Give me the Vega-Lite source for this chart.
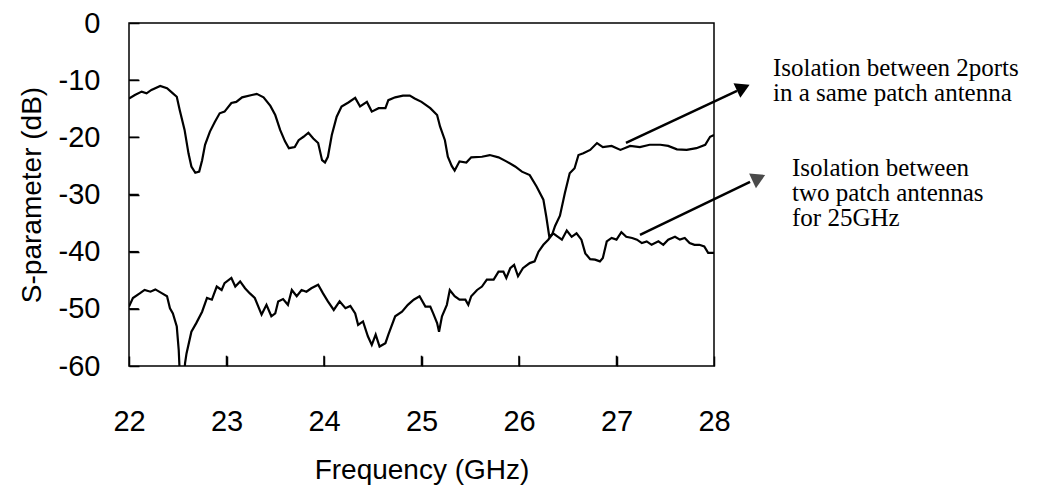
{
  "$schema": "https://vega.github.io/schema/vega-lite/v6.json",
  "width": 585,
  "height": 343,
  "autosize": {"type": "none"},
  "padding": {"left": 129, "top": 23, "right": 327, "bottom": 129},
  "background": "white",
  "config": {
    "view": {"stroke": "black", "strokeWidth": 1.5},
    "font": "Liberation Sans"
  },
  "datasets": {
    "curves": [
      {"series": "A", "x": 22.00, "y": -13.2}, {"series": "A", "x": 22.06, "y": -12.6}, {"series": "A", "x": 22.13, "y": -12.0},
      {"series": "A", "x": 22.18, "y": -12.3}, {"series": "A", "x": 22.23, "y": -11.7}, {"series": "A", "x": 22.32, "y": -11.0},
      {"series": "A", "x": 22.39, "y": -11.4}, {"series": "A", "x": 22.45, "y": -12.3}, {"series": "A", "x": 22.49, "y": -12.9},
      {"series": "A", "x": 22.52, "y": -15.2}, {"series": "A", "x": 22.57, "y": -18.7}, {"series": "A", "x": 22.61, "y": -22.8},
      {"series": "A", "x": 22.64, "y": -25.1}, {"series": "A", "x": 22.68, "y": -26.2}, {"series": "A", "x": 22.72, "y": -26.0},
      {"series": "A", "x": 22.75, "y": -24.0}, {"series": "A", "x": 22.78, "y": -21.3}, {"series": "A", "x": 22.83, "y": -19.0},
      {"series": "A", "x": 22.88, "y": -17.3}, {"series": "A", "x": 22.93, "y": -15.8}, {"series": "A", "x": 22.98, "y": -15.5},
      {"series": "A", "x": 23.05, "y": -14.0}, {"series": "A", "x": 23.10, "y": -13.8}, {"series": "A", "x": 23.16, "y": -13.0},
      {"series": "A", "x": 23.26, "y": -12.6}, {"series": "A", "x": 23.31, "y": -12.4}, {"series": "A", "x": 23.38, "y": -13.0},
      {"series": "A", "x": 23.45, "y": -14.5}, {"series": "A", "x": 23.50, "y": -16.1}, {"series": "A", "x": 23.55, "y": -18.7},
      {"series": "A", "x": 23.60, "y": -20.7}, {"series": "A", "x": 23.64, "y": -21.9}, {"series": "A", "x": 23.70, "y": -21.7},
      {"series": "A", "x": 23.74, "y": -20.5}, {"series": "A", "x": 23.79, "y": -19.9}, {"series": "A", "x": 23.84, "y": -19.2},
      {"series": "A", "x": 23.89, "y": -20.2}, {"series": "A", "x": 23.94, "y": -21.0}, {"series": "A", "x": 23.98, "y": -24.0},
      {"series": "A", "x": 24.01, "y": -24.4}, {"series": "A", "x": 24.04, "y": -23.4}, {"series": "A", "x": 24.08, "y": -19.6},
      {"series": "A", "x": 24.13, "y": -16.4}, {"series": "A", "x": 24.18, "y": -14.6}, {"series": "A", "x": 24.25, "y": -13.9},
      {"series": "A", "x": 24.32, "y": -13.1}, {"series": "A", "x": 24.37, "y": -14.6}, {"series": "A", "x": 24.44, "y": -13.8},
      {"series": "A", "x": 24.49, "y": -15.5}, {"series": "A", "x": 24.56, "y": -14.9}, {"series": "A", "x": 24.63, "y": -14.9},
      {"series": "A", "x": 24.66, "y": -13.5}, {"series": "A", "x": 24.73, "y": -13.0}, {"series": "A", "x": 24.81, "y": -12.7},
      {"series": "A", "x": 24.88, "y": -12.7}, {"series": "A", "x": 24.93, "y": -13.2}, {"series": "A", "x": 25.00, "y": -13.8},
      {"series": "A", "x": 25.09, "y": -14.9}, {"series": "A", "x": 25.16, "y": -16.1}, {"series": "A", "x": 25.19, "y": -18.1},
      {"series": "A", "x": 25.24, "y": -20.5}, {"series": "A", "x": 25.27, "y": -23.4}, {"series": "A", "x": 25.31, "y": -25.0},
      {"series": "A", "x": 25.34, "y": -25.8}, {"series": "A", "x": 25.39, "y": -24.2}, {"series": "A", "x": 25.46, "y": -24.4},
      {"series": "A", "x": 25.51, "y": -23.5}, {"series": "A", "x": 25.62, "y": -23.4}, {"series": "A", "x": 25.70, "y": -23.1},
      {"series": "A", "x": 25.79, "y": -23.5}, {"series": "A", "x": 25.87, "y": -24.2}, {"series": "A", "x": 25.96, "y": -25.1},
      {"series": "A", "x": 26.03, "y": -26.0}, {"series": "A", "x": 26.11, "y": -26.6}, {"series": "A", "x": 26.18, "y": -28.6},
      {"series": "A", "x": 26.25, "y": -30.9}, {"series": "A", "x": 26.28, "y": -33.9}, {"series": "A", "x": 26.31, "y": -37.3},
      {"series": "A", "x": 26.34, "y": -37.0}, {"series": "A", "x": 26.37, "y": -35.5}, {"series": "A", "x": 26.42, "y": -33.7},
      {"series": "A", "x": 26.47, "y": -29.8}, {"series": "A", "x": 26.52, "y": -26.3}, {"series": "A", "x": 26.57, "y": -25.4},
      {"series": "A", "x": 26.61, "y": -23.1}, {"series": "A", "x": 26.66, "y": -22.8}, {"series": "A", "x": 26.73, "y": -22.2},
      {"series": "A", "x": 26.80, "y": -21.0}, {"series": "A", "x": 26.86, "y": -21.7}, {"series": "A", "x": 26.95, "y": -21.5},
      {"series": "A", "x": 27.04, "y": -22.2}, {"series": "A", "x": 27.14, "y": -21.5}, {"series": "A", "x": 27.24, "y": -21.7},
      {"series": "A", "x": 27.34, "y": -21.3}, {"series": "A", "x": 27.45, "y": -21.3}, {"series": "A", "x": 27.53, "y": -21.5},
      {"series": "A", "x": 27.62, "y": -22.1}, {"series": "A", "x": 27.72, "y": -22.2}, {"series": "A", "x": 27.82, "y": -21.9},
      {"series": "A", "x": 27.91, "y": -21.3}, {"series": "A", "x": 27.96, "y": -19.9}, {"series": "A", "x": 28.00, "y": -19.6},
      {"series": "B", "x": 22.00, "y": -49.6}, {"series": "B", "x": 22.04, "y": -48.1}, {"series": "B", "x": 22.11, "y": -47.3},
      {"series": "B", "x": 22.16, "y": -46.7}, {"series": "B", "x": 22.22, "y": -47.0}, {"series": "B", "x": 22.27, "y": -46.6},
      {"series": "B", "x": 22.34, "y": -47.3}, {"series": "B", "x": 22.39, "y": -47.8}, {"series": "B", "x": 22.42, "y": -49.9},
      {"series": "B", "x": 22.45, "y": -50.8}, {"series": "B", "x": 22.49, "y": -53.1}, {"series": "B", "x": 22.51, "y": -57.2},
      {"series": "B", "x": 22.525, "y": -63.0}, {"series": "B", "x": 22.56, "y": -63.0}, {"series": "B", "x": 22.575, "y": -59.5},
      {"series": "B", "x": 22.59, "y": -57.8}, {"series": "B", "x": 22.64, "y": -54.0}, {"series": "B", "x": 22.69, "y": -52.5},
      {"series": "B", "x": 22.75, "y": -50.5}, {"series": "B", "x": 22.80, "y": -48.1}, {"series": "B", "x": 22.85, "y": -48.4},
      {"series": "B", "x": 22.90, "y": -46.1}, {"series": "B", "x": 22.95, "y": -46.7}, {"series": "B", "x": 22.98, "y": -45.5},
      {"series": "B", "x": 23.05, "y": -44.6}, {"series": "B", "x": 23.09, "y": -46.1}, {"series": "B", "x": 23.14, "y": -45.2},
      {"series": "B", "x": 23.19, "y": -46.4}, {"series": "B", "x": 23.24, "y": -47.3}, {"series": "B", "x": 23.29, "y": -48.1},
      {"series": "B", "x": 23.36, "y": -51.0}, {"series": "B", "x": 23.41, "y": -49.3}, {"series": "B", "x": 23.46, "y": -51.3},
      {"series": "B", "x": 23.50, "y": -50.8}, {"series": "B", "x": 23.53, "y": -48.7}, {"series": "B", "x": 23.58, "y": -48.3},
      {"series": "B", "x": 23.63, "y": -49.3}, {"series": "B", "x": 23.67, "y": -46.7}, {"series": "B", "x": 23.72, "y": -47.8},
      {"series": "B", "x": 23.77, "y": -46.7}, {"series": "B", "x": 23.82, "y": -47.0}, {"series": "B", "x": 23.87, "y": -46.4},
      {"series": "B", "x": 23.94, "y": -45.8}, {"series": "B", "x": 23.99, "y": -47.3}, {"series": "B", "x": 24.04, "y": -48.7},
      {"series": "B", "x": 24.10, "y": -50.2}, {"series": "B", "x": 24.16, "y": -48.7}, {"series": "B", "x": 24.22, "y": -49.9},
      {"series": "B", "x": 24.27, "y": -49.5}, {"series": "B", "x": 24.32, "y": -50.8}, {"series": "B", "x": 24.35, "y": -52.8},
      {"series": "B", "x": 24.40, "y": -52.2}, {"series": "B", "x": 24.45, "y": -54.8}, {"series": "B", "x": 24.49, "y": -56.3},
      {"series": "B", "x": 24.53, "y": -54.5}, {"series": "B", "x": 24.57, "y": -56.6}, {"series": "B", "x": 24.63, "y": -56.0},
      {"series": "B", "x": 24.66, "y": -54.5}, {"series": "B", "x": 24.73, "y": -51.3}, {"series": "B", "x": 24.80, "y": -50.5},
      {"series": "B", "x": 24.86, "y": -49.3}, {"series": "B", "x": 24.92, "y": -48.4}, {"series": "B", "x": 24.98, "y": -47.8},
      {"series": "B", "x": 25.04, "y": -49.6}, {"series": "B", "x": 25.09, "y": -49.6}, {"series": "B", "x": 25.12, "y": -50.8},
      {"series": "B", "x": 25.16, "y": -52.5}, {"series": "B", "x": 25.18, "y": -54.0}, {"series": "B", "x": 25.21, "y": -51.3},
      {"series": "B", "x": 25.26, "y": -49.3}, {"series": "B", "x": 25.29, "y": -46.7}, {"series": "B", "x": 25.34, "y": -47.8},
      {"series": "B", "x": 25.39, "y": -48.4}, {"series": "B", "x": 25.45, "y": -48.4}, {"series": "B", "x": 25.48, "y": -49.3},
      {"series": "B", "x": 25.51, "y": -47.8}, {"series": "B", "x": 25.57, "y": -46.7}, {"series": "B", "x": 25.62, "y": -46.1},
      {"series": "B", "x": 25.67, "y": -44.9}, {"series": "B", "x": 25.74, "y": -44.9}, {"series": "B", "x": 25.79, "y": -43.5},
      {"series": "B", "x": 25.84, "y": -43.5}, {"series": "B", "x": 25.87, "y": -44.6}, {"series": "B", "x": 25.91, "y": -42.9},
      {"series": "B", "x": 25.95, "y": -42.3}, {"series": "B", "x": 25.99, "y": -44.3}, {"series": "B", "x": 26.04, "y": -42.9},
      {"series": "B", "x": 26.11, "y": -42.0}, {"series": "B", "x": 26.16, "y": -41.7}, {"series": "B", "x": 26.20, "y": -40.0},
      {"series": "B", "x": 26.25, "y": -38.8}, {"series": "B", "x": 26.30, "y": -37.9}, {"series": "B", "x": 26.35, "y": -36.8},
      {"series": "B", "x": 26.40, "y": -37.4}, {"series": "B", "x": 26.44, "y": -37.9}, {"series": "B", "x": 26.49, "y": -36.3},
      {"series": "B", "x": 26.54, "y": -37.4}, {"series": "B", "x": 26.59, "y": -36.8}, {"series": "B", "x": 26.64, "y": -37.9},
      {"series": "B", "x": 26.68, "y": -40.3}, {"series": "B", "x": 26.73, "y": -41.3}, {"series": "B", "x": 26.78, "y": -41.4},
      {"series": "B", "x": 26.83, "y": -41.7}, {"series": "B", "x": 26.86, "y": -41.1}, {"series": "B", "x": 26.90, "y": -38.2},
      {"series": "B", "x": 26.95, "y": -37.6}, {"series": "B", "x": 27.00, "y": -37.9}, {"series": "B", "x": 27.05, "y": -36.6},
      {"series": "B", "x": 27.10, "y": -37.4}, {"series": "B", "x": 27.16, "y": -37.6}, {"series": "B", "x": 27.21, "y": -37.9},
      {"series": "B", "x": 27.26, "y": -38.5}, {"series": "B", "x": 27.31, "y": -38.2}, {"series": "B", "x": 27.36, "y": -38.8},
      {"series": "B", "x": 27.43, "y": -38.2}, {"series": "B", "x": 27.48, "y": -38.8}, {"series": "B", "x": 27.53, "y": -37.9},
      {"series": "B", "x": 27.60, "y": -37.4}, {"series": "B", "x": 27.65, "y": -37.9}, {"series": "B", "x": 27.70, "y": -37.6},
      {"series": "B", "x": 27.75, "y": -38.5}, {"series": "B", "x": 27.80, "y": -38.8}, {"series": "B", "x": 27.85, "y": -38.8},
      {"series": "B", "x": 27.90, "y": -39.1}, {"series": "B", "x": 27.94, "y": -40.2}, {"series": "B", "x": 28.00, "y": -40.2}
    ],
    "xticks": [
      {"x": 23, "y": -60, "y2": -58.2}, {"x": 24, "y": -60, "y2": -58.2}, {"x": 25, "y": -60, "y2": -58.2},
      {"x": 26, "y": -60, "y2": -58.2}, {"x": 27, "y": -60, "y2": -58.2}
    ],
    "yticks": [
      {"y": -50, "x": 22, "x2": 22.1}, {"y": -40, "x": 22, "x2": 22.1}, {"y": -30, "x": 22, "x2": 22.1},
      {"y": -20, "x": 22, "x2": 22.1}, {"y": -10, "x": 22, "x2": 22.1}
    ],
    "arrows": [
      {"arrow": "a", "x": 27.097, "y": -20.98}, {"arrow": "a", "x": 28.236, "y": -11.89},
      {"arrow": "b", "x": 27.241, "y": -37.06}, {"arrow": "b", "x": 28.37, "y": -27.8}
    ],
    "heads": [
      {"head": "a", "x": 28.30, "y": -11.3},
      {"head": "b", "x": 28.46, "y": -27.1}
    ],
    "notes": [
      {"x": 28.605, "y": -9.27, "text": "Isolation between 2ports\nin a same patch antenna"},
      {"x": 28.80, "y": -26.75, "text": "Isolation between\ntwo patch antennas\nfor 25GHz"}
    ]
  },
  "encoding": {
    "x": {
      "field": "x", "type": "quantitative",
      "scale": {"domain": [22, 28], "nice": false, "zero": false},
      "axis": {
        "values": [22, 23, 24, 25, 26, 27, 28],
        "domain": false, "grid": false,
        "tickSize": -10, "tickColor": "black", "tickWidth": 1.5,
        "labelFontSize": 29, "labelColor": "black", "labelFont": "Liberation Sans",
        "labelPadding": 51, "labelFlush": false, "labelOverlap": false,
        "title": "Frequency (GHz)", "titleFontSize": 28, "titleFontWeight": "normal",
        "titleColor": "black", "titleFont": "Liberation Sans", "titlePadding": 20
      }
    },
    "y": {
      "field": "y", "type": "quantitative",
      "scale": {"domain": [-60, 0], "nice": false, "zero": false},
      "axis": {
        "values": [-60, -50, -40, -30, -20, -10, 0],
        "labelExpr": "replace(datum.label, '\u2212', '-')",
        "domain": false, "grid": false,
        "tickSize": -10, "tickColor": "black", "tickWidth": 1.5,
        "labelFontSize": 29, "labelColor": "black", "labelFont": "Liberation Sans",
        "labelPadding": 39, "labelFlush": false, "labelOverlap": false,
        "title": "S-parameter (dB)", "titleFontSize": 28, "titleFontWeight": "normal",
        "titleColor": "black", "titleFont": "Liberation Sans", "titlePadding": 12
      }
    }
  },
  "layer": [
    {
      "data": {"name": "curves"},
      "mark": {"type": "line", "color": "black", "strokeWidth": 2.2, "clip": true},
      "encoding": {"detail": {"field": "series", "type": "nominal"}}
    },
    {
      "data": {"name": "arrows"},
      "mark": {"type": "line", "color": "black", "strokeWidth": 2.5},
      "encoding": {"detail": {"field": "arrow", "type": "nominal"}}
    },
    {
      "data": {"name": "heads"},
      "mark": {"type": "point", "shape": "triangle-right", "filled": true, "size": 260, "angle": 335, "opacity": 1, "strokeWidth": 0},
      "encoding": {
        "color": {"field": "head", "type": "nominal", "scale": {"domain": ["a", "b"], "range": ["#000000", "#4a4a4a"]}, "legend": null}
      }
    },
    {
      "data": {"name": "notes"},
      "mark": {"type": "text", "align": "left", "baseline": "alphabetic", "font": "Liberation Serif", "fontSize": 25, "lineHeight": 25, "lineBreak": "\n", "color": "black"},
      "encoding": {"text": {"field": "text", "type": "nominal"}}
    },
    {
      "data": {"name": "xticks"},
      "mark": {"type": "rule", "color": "black", "strokeWidth": 1.5},
      "encoding": {"y2": {"field": "y2"}}
    },
    {
      "data": {"name": "yticks"},
      "mark": {"type": "rule", "color": "black", "strokeWidth": 1.5},
      "encoding": {"x2": {"field": "x2"}}
    }
  ]
}
